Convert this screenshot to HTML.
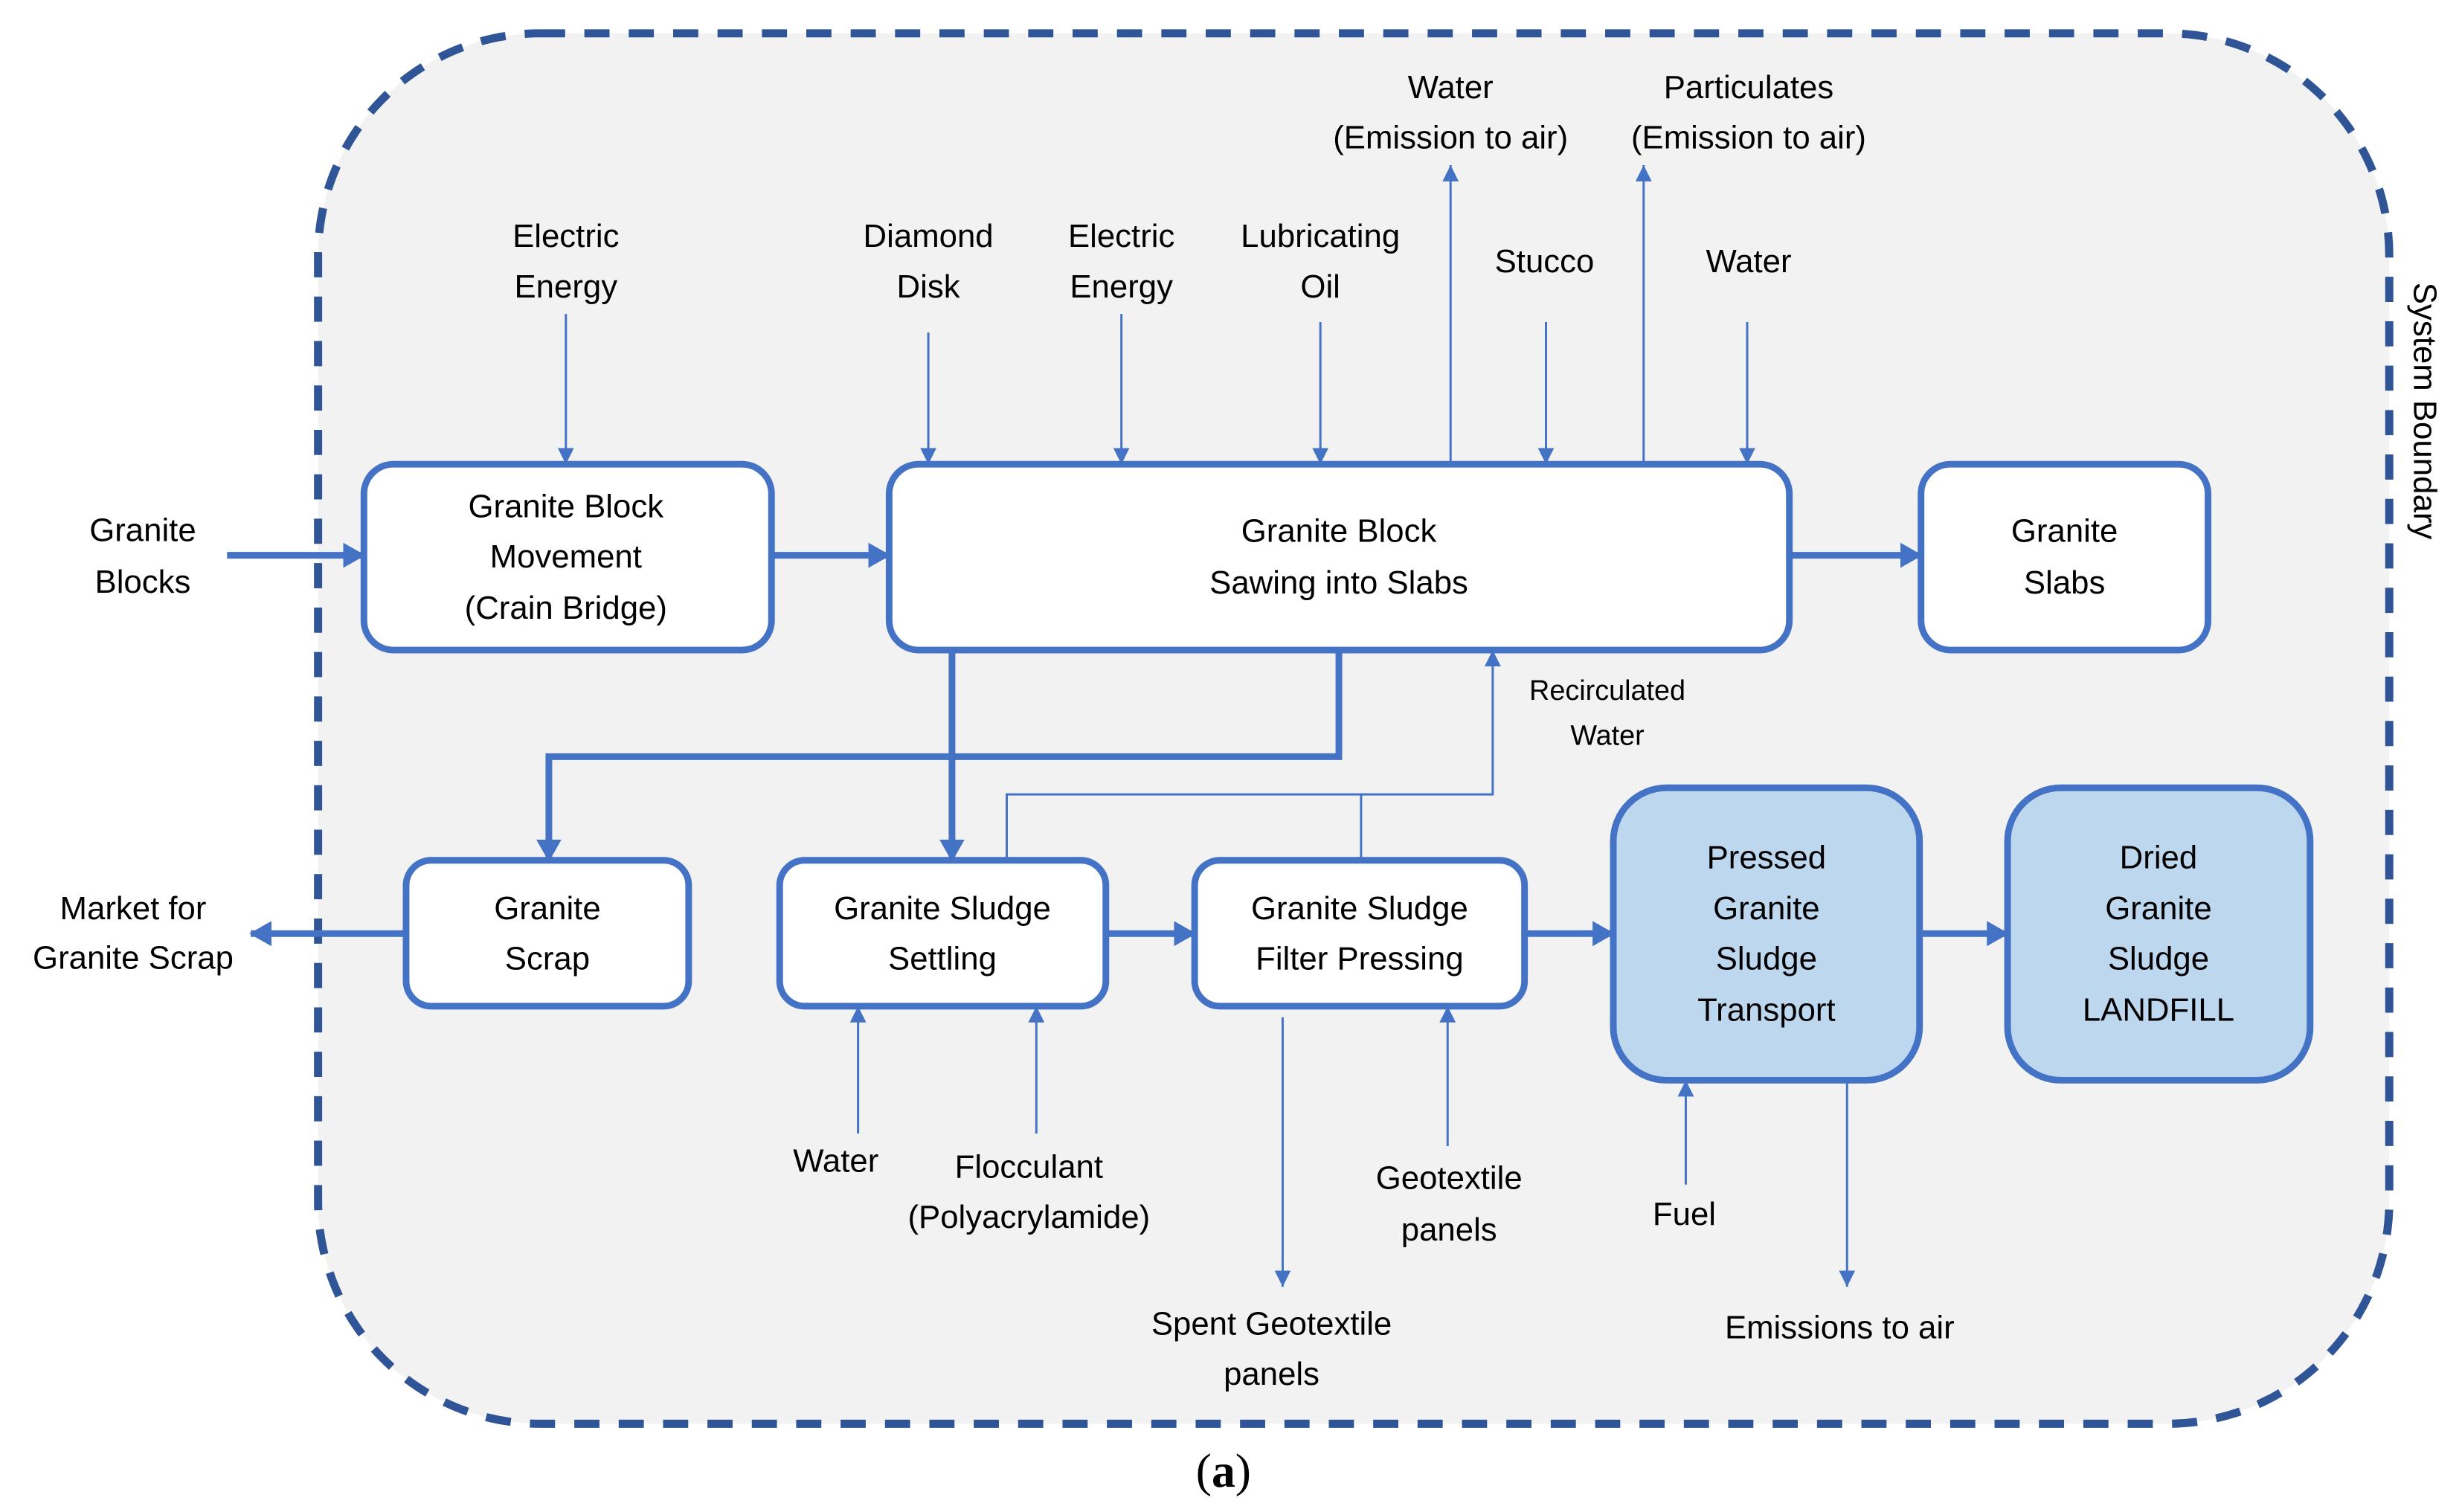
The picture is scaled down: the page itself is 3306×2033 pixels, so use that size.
<!DOCTYPE html>
<html><head><meta charset="utf-8"><style>
html,body{margin:0;padding:0;background:#fff}
svg{display:block}
text{font-family:"Liberation Sans",sans-serif;font-size:44px;fill:#000;text-anchor:middle;dominant-baseline:middle}
</style></head><body>
<svg width="3306" height="2033" viewBox="0 0 3306 2033" xmlns="http://www.w3.org/2000/svg">
<defs>
<marker id="tk" markerUnits="userSpaceOnUse" markerWidth="30" markerHeight="34" refX="28" refY="17" orient="auto"><path d="M0,0 L30,17 L0,34 Z" fill="#4472C4"/></marker>
<marker id="tn" markerUnits="userSpaceOnUse" markerWidth="22" markerHeight="22" refX="22" refY="11" orient="auto"><path d="M0,0 L22,11 L0,22 Z" fill="#4472C4"/></marker>
</defs>
<g transform="scale(0.9945,0.9955)">
<rect x="430" y="45" width="2800" height="1878" rx="300" ry="300" fill="#F2F2F2" stroke="#2F5597" stroke-width="11" stroke-dasharray="34,26"/>
<g fill="#fff" stroke="#4472C4" stroke-width="9">
<rect x="492" y="627" width="551" height="251" rx="40"/>
<rect x="1202" y="627" width="1217" height="251" rx="40"/>
<rect x="2597" y="627" width="388" height="251" rx="40"/>
<rect x="549" y="1162" width="382" height="197" rx="34"/>
<rect x="1054" y="1162" width="441" height="197" rx="34"/>
<rect x="1615" y="1162" width="446" height="197" rx="34"/>
<rect x="2181" y="1064" width="414" height="395" rx="72" fill="#BDD7EE"/>
<rect x="2714" y="1064" width="409" height="395" rx="72" fill="#BDD7EE"/>
</g>
<g stroke="#4472C4" stroke-width="9" fill="none" marker-end="url(#tk)">
<line x1="307" y1="750" x2="492" y2="750"/>
<line x1="1043" y1="750" x2="1202" y2="750"/>
<line x1="2419" y1="750" x2="2597" y2="750"/>
<line x1="1287" y1="878" x2="1287" y2="1162"/>
<polyline points="1810,878 1810,1022 742,1022 742,1162"/>
<line x1="549" y1="1261" x2="339" y2="1261"/>
<line x1="1495" y1="1261" x2="1615" y2="1261"/>
<line x1="2061" y1="1261" x2="2181" y2="1261"/>
<line x1="2595" y1="1261" x2="2714" y2="1261"/>
</g>
<g stroke="#4472C4" stroke-width="3" fill="none" marker-end="url(#tn)">
<line x1="765" y1="424" x2="765" y2="627"/>
<line x1="1255" y1="449" x2="1255" y2="627"/>
<line x1="1516" y1="424" x2="1516" y2="627"/>
<line x1="1785" y1="435" x2="1785" y2="627"/>
<line x1="1961" y1="627" x2="1961" y2="223"/>
<line x1="2090" y1="435" x2="2090" y2="627"/>
<line x1="2222" y1="627" x2="2222" y2="223"/>
<line x1="2362" y1="435" x2="2362" y2="627"/>
<polyline points="1361,1162 1361,1073 2018,1073 2018,878"/>
<line x1="1160" y1="1531" x2="1160" y2="1359"/>
<line x1="1401" y1="1531" x2="1401" y2="1359"/>
<line x1="1734" y1="1374" x2="1734" y2="1738"/>
<line x1="1957" y1="1548" x2="1957" y2="1359"/>
<line x1="2279" y1="1600" x2="2279" y2="1459"/>
<line x1="2497" y1="1459" x2="2497" y2="1738"/>
</g>
<line x1="1840" y1="1162" x2="1840" y2="1073" stroke="#4472C4" stroke-width="3"/>
<text x="765" y="687">Granite Block</text><text x="765" y="755">Movement</text><text x="765" y="824">(Crain Bridge)</text>
<text x="1810" y="720">Granite Block</text><text x="1810" y="790">Sawing into Slabs</text>
<text x="2791" y="720">Granite</text><text x="2791" y="790">Slabs</text>
<text x="740" y="1230">Granite</text><text x="740" y="1298">Scrap</text>
<text x="1274" y="1230">Granite Sludge</text><text x="1274" y="1298">Settling</text>
<text x="1838" y="1230">Granite Sludge</text><text x="1838" y="1298">Filter Pressing</text>
<text x="2388" y="1161">Pressed</text><text x="2388" y="1230">Granite</text><text x="2388" y="1298">Sludge</text><text x="2388" y="1367">Transport</text>
<text x="2918" y="1161">Dried</text><text x="2918" y="1230">Granite</text><text x="2918" y="1298">Sludge</text><text x="2918" y="1367">LANDFILL</text>
<text x="193" y="719">Granite</text><text x="193" y="789">Blocks</text>
<text x="765" y="322">Electric</text><text x="765" y="390">Energy</text>
<text x="1255" y="322">Diamond</text><text x="1255" y="390">Disk</text>
<text x="1516" y="322">Electric</text><text x="1516" y="390">Energy</text>
<text x="1785" y="322">Lubricating</text><text x="1785" y="390">Oil</text>
<text x="1961" y="121">Water</text><text x="1961" y="189">(Emission to air)</text>
<text x="2364" y="121">Particulates</text><text x="2364" y="189">(Emission to air)</text>
<text x="2088" y="356">Stucco</text>
<text x="2364" y="356">Water</text>
<text x="2173" y="935" style="font-size:38px">Recirculated</text><text x="2173" y="996" style="font-size:38px">Water</text>
<text x="180" y="1230">Market for</text><text x="180" y="1297">Granite Scrap</text>
<text x="1130" y="1571">Water</text>
<text x="1391" y="1579">Flocculant</text><text x="1391" y="1647">(Polyacrylamide)</text>
<text x="1719" y="1791">Spent Geotextile</text><text x="1719" y="1859">panels</text>
<text x="1959" y="1594">Geotextile</text><text x="1959" y="1664">panels</text>
<text x="2277" y="1643">Fuel</text>
<text x="2487" y="1796">Emissions to air</text>
<text transform="translate(3275,555) rotate(90)">System Boundary</text>
<text x="1654" y="1993" style="font-family:'Liberation Serif',serif;font-size:64px">(<tspan font-weight="bold">a</tspan>)</text>
</g>
</svg>
</body></html>
